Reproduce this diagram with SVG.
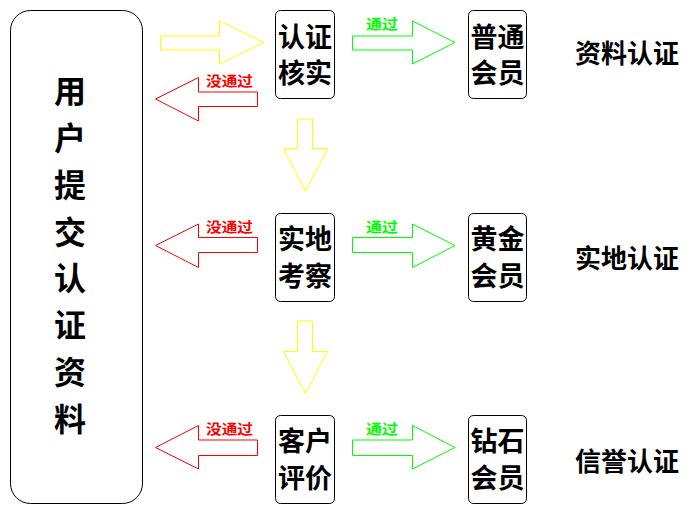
<svg xmlns="http://www.w3.org/2000/svg" width="696" height="511" viewBox="0 0 696 511">
<style>
.box{fill:#fff;stroke:#000;stroke-width:1}
.t{font-family:"Noto Sans CJK SC","Liberation Sans",sans-serif;font-weight:bold;fill:#000}
.big{font-size:32px;text-anchor:middle}
.nt{font-size:27px;text-anchor:middle}
.lab{font-size:26px}
.sm{font-family:"Noto Sans CJK SC","Liberation Sans",sans-serif;font-weight:bold;font-size:14px}
.red{fill:#f00}
.grn{fill:#0f0}
.ay{fill:none;stroke:#ff0;stroke-width:1}
.ag{fill:none;stroke:#0f0;stroke-width:1}
.ar{fill:none;stroke:#f00;stroke-width:1}
</style>
<rect width="696" height="511" fill="#fff"/>
<g id="connectors">
<path class="ay" d="M160.5,36 H219.5 V21 L263.5,42.5 L219.5,64 V50 H160.5 Z"/>
<path class="ag" d="M352.5,36 H412.5 V21 L455,42.5 L412.5,64 V50 H352.5 Z"/>
<path class="ag" d="M352.5,237.5 H412.5 V224 L455,245.5 L412.5,267.5 V252.5 H352.5 Z"/>
<path class="ag" d="M352.5,440 H412.5 V425.5 L455,447.5 L412.5,469 V455.5 H352.5 Z"/>
<path class="ar" d="M257.5,92 H198.5 V77.5 L155.5,99 L198.5,121 V106.5 H257.5 Z"/>
<path class="ar" d="M257.5,237.5 H198.5 V224 L155.5,245.5 L198.5,267.5 V252.5 H257.5 Z"/>
<path class="ar" d="M257.5,440 H198.5 V425.5 L155.5,447.5 L198.5,469 V455.5 H257.5 Z"/>
<path class="ay" d="M297.5,119 V148.5 H283.5 L305.5,191.5 L327.5,148.5 H312.5 V119 Z"/>
<path class="ay" d="M297.5,321 V351.5 H283.5 L305.5,393.5 L327.5,351.5 H312.5 V321 Z"/>
<text class="sm grn" x="366" y="29" textLength="32" lengthAdjust="spacingAndGlyphs">通过</text>
<text class="sm grn" x="366" y="232" textLength="32" lengthAdjust="spacingAndGlyphs">通过</text>
<text class="sm grn" x="366" y="434" textLength="32" lengthAdjust="spacingAndGlyphs">通过</text>
<text class="sm red" x="206" y="86" textLength="47" lengthAdjust="spacingAndGlyphs">没通过</text>
<text class="sm red" x="206" y="232" textLength="47" lengthAdjust="spacingAndGlyphs">没通过</text>
<text class="sm red" x="206" y="434" textLength="47" lengthAdjust="spacingAndGlyphs">没通过</text>
</g>
<g id="user">
<rect class="box" x="10.5" y="10.5" width="132" height="493" rx="20"/>
<text class="t big" x="70" y="103">用</text>
<text class="t big" x="70" y="150">户</text>
<text class="t big" x="70" y="197">提</text>
<text class="t big" x="70" y="243.5">交</text>
<text class="t big" x="70" y="290">认</text>
<text class="t big" x="70" y="337">证</text>
<text class="t big" x="70" y="384">资</text>
<text class="t big" x="70" y="431">料</text>
</g>
<g id="n-verify">
<rect class="box" x="275.5" y="10.5" width="59" height="88" rx="5"/>
<text class="t nt" x="305" y="46.5">认证</text>
<text class="t nt" x="305" y="83">核实</text>
</g>
<g id="n-normal">
<rect class="box" x="468.5" y="10.5" width="58" height="88" rx="5"/>
<text class="t nt" x="497.5" y="46.5">普通</text>
<text class="t nt" x="497.5" y="83">会员</text>
</g>
<g id="n-visit">
<rect class="box" x="275.5" y="213.5" width="59" height="88" rx="5"/>
<text class="t nt" x="305" y="249">实地</text>
<text class="t nt" x="305" y="285.5">考察</text>
</g>
<g id="n-gold">
<rect class="box" x="468.5" y="213.5" width="58" height="88" rx="5"/>
<text class="t nt" x="497.5" y="249">黄金</text>
<text class="t nt" x="497.5" y="285.5">会员</text>
</g>
<g id="n-review">
<rect class="box" x="275.5" y="415.5" width="59" height="88" rx="5"/>
<text class="t nt" x="305" y="451">客户</text>
<text class="t nt" x="305" y="487.5">评价</text>
</g>
<g id="n-diamond">
<rect class="box" x="468.5" y="415.5" width="58" height="88" rx="5"/>
<text class="t nt" x="497.5" y="451">钻石</text>
<text class="t nt" x="497.5" y="487.5">会员</text>
</g>
<g id="labels">
<text class="t lab" x="575" y="63">资料认证</text>
<text class="t lab" x="575" y="268">实地认证</text>
<text class="t lab" x="575" y="471">信誉认证</text>
</g>
</svg>
